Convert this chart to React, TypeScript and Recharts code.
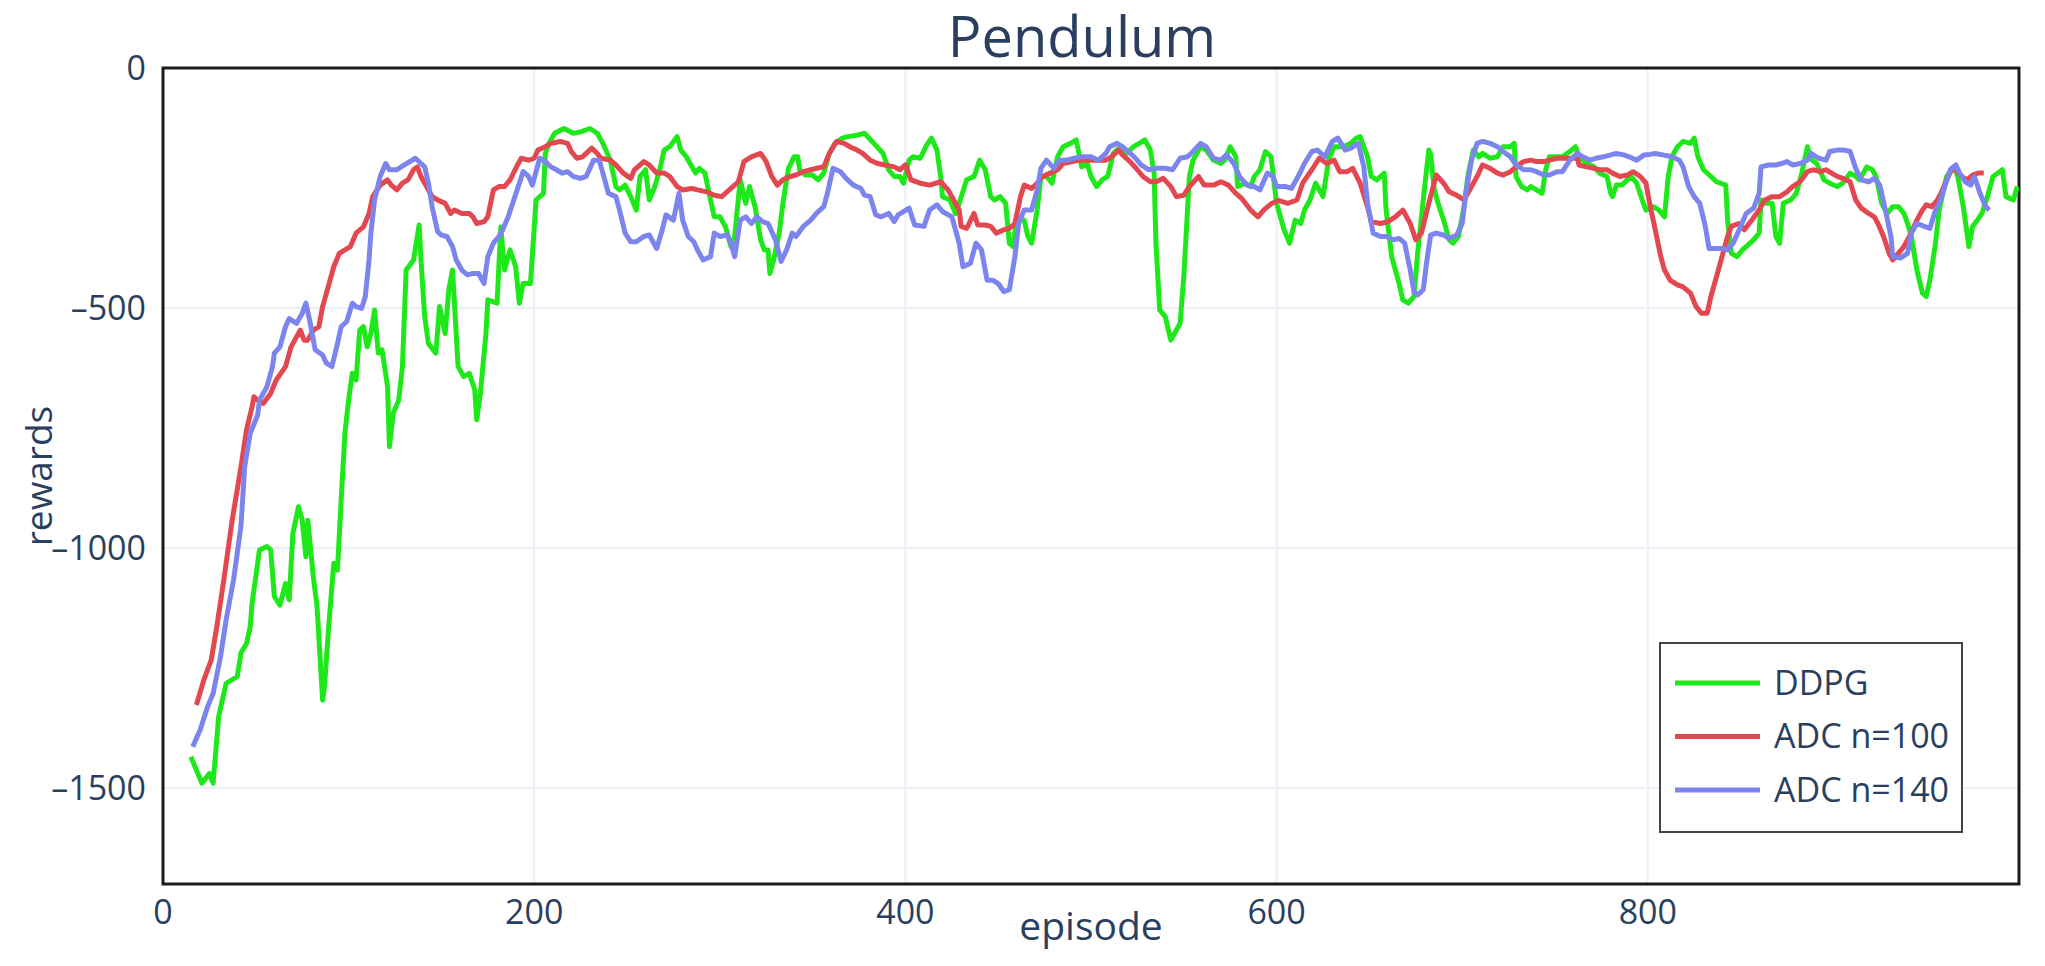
import React from "react";
import { LineChart, Line, XAxis, YAxis, CartesianGrid, Legend, ReferenceArea, Label } from "recharts";

const FONT = "'Open Sans', sans-serif";
const INK = "#2a3f5f";

const xTicks = [0, 200, 400, 600, 800];
const yTicks = [0, -500, -1000, -1500];
const seriesNames = ["DDPG", "ADC n=100", "ADC n=140"];
const seriesColors = ["#1fe81a", "#e3474f", "#7c84ee"];

// [episode, reward]
const ddpgPoints = [
  [15, -1435], [21, -1490], [25, -1470], [27, -1490], [30, -1351], [34, -1282], [40, -1268], [42, -1219],
  [45, -1199], [47, -1164], [48, -1115], [49, -1087], [52, -1004], [56, -997], [58, -1004], [60, -1101],
  [63, -1119], [66, -1074], [68, -1108], [70, -969], [73, -914], [75, -942], [77, -1018], [78, -942],
  [81, -1060], [83, -1122], [86, -1317], [87, -1289], [89, -1178], [92, -1032], [94, -1046], [96, -900],
  [98, -761], [100, -692], [102, -636], [104, -650], [106, -546], [108, -539], [110, -581], [112, -553],
  [114, -504], [116, -594], [118, -587], [121, -664], [122, -789], [124, -720], [127, -692], [129, -622],
  [131, -421], [135, -400], [138, -327], [139, -400], [141, -518], [143, -574], [147, -594], [149, -497],
  [152, -553], [154, -462], [156, -421], [159, -622], [162, -643], [165, -636], [168, -671], [169, -733],
  [171, -678], [174, -553], [175, -483], [180, -490], [182, -331], [184, -421], [187, -379], [190, -414],
  [192, -490], [194, -449], [198, -449], [201, -275], [205, -261], [206, -178], [208, -157], [211, -136],
  [216, -126], [221, -136], [225, -133], [230, -126], [234, -136], [237, -157], [241, -192], [244, -247],
  [246, -254], [249, -244], [252, -268], [255, -296], [257, -226], [260, -212], [262, -275], [265, -247],
  [268, -206], [270, -171], [273, -164], [277, -143], [279, -171], [282, -185], [284, -199], [287, -219],
  [289, -209], [292, -219], [295, -275], [297, -310], [300, -310], [303, -330], [306, -372], [308, -351],
  [311, -233], [314, -282], [316, -247], [319, -289], [322, -358], [324, -379], [326, -379], [327, -428],
  [329, -400], [332, -344], [334, -282], [337, -209], [340, -185], [342, -185], [343, -212], [346, -223],
  [350, -223], [353, -233], [356, -219], [359, -178], [362, -157], [366, -146], [369, -143], [374, -140],
  [378, -136], [383, -157], [388, -178], [391, -212], [394, -226], [397, -226], [399, -240], [402, -192],
  [404, -185], [408, -188], [411, -164], [414, -146], [417, -171], [419, -226], [420, -268], [424, -275],
  [427, -303], [429, -282], [433, -233], [437, -226], [440, -192], [443, -212], [446, -268], [448, -275],
  [451, -268], [454, -282], [456, -365], [458, -372], [460, -310], [464, -317], [466, -351], [468, -365],
  [471, -296], [473, -226], [476, -226], [479, -240], [482, -185], [485, -164], [489, -157], [492, -150],
  [495, -206], [498, -199], [500, -226], [503, -247], [506, -233], [509, -226], [512, -178], [516, -164],
  [519, -178], [523, -164], [526, -157], [529, -150], [532, -171], [534, -219], [535, -365], [537, -504],
  [540, -518], [543, -567], [545, -553], [548, -532], [550, -435], [552, -296], [553, -226], [555, -192],
  [559, -164], [562, -171], [566, -192], [570, -199], [572, -192], [575, -164], [578, -185], [579, -247],
  [583, -240], [586, -247], [588, -226], [591, -212], [594, -174], [597, -185], [600, -282], [604, -337],
  [607, -365], [610, -317], [613, -324], [615, -296], [618, -275], [621, -240], [623, -254], [625, -268],
  [628, -192], [631, -164], [636, -164], [640, -157], [643, -146], [645, -143], [649, -185], [651, -226],
  [654, -233], [658, -219], [659, -296], [662, -393], [666, -449], [668, -483], [671, -490], [674, -476],
  [676, -386], [679, -275], [682, -171], [683, -180], [685, -254], [687, -282], [690, -317], [693, -358],
  [695, -365], [698, -351], [701, -289], [703, -226], [706, -171], [709, -185], [711, -178], [715, -188],
  [719, -185], [722, -164], [726, -164], [728, -157], [729, -226], [732, -247], [735, -254], [737, -247],
  [740, -254], [743, -261], [745, -212], [747, -185], [751, -185], [754, -185], [758, -174], [761, -164],
  [763, -185], [767, -199], [771, -206], [774, -219], [778, -226], [780, -261], [781, -268], [783, -244],
  [786, -244], [789, -233], [791, -226], [794, -240], [797, -275], [799, -296], [803, -289], [806, -296],
  [809, -310], [811, -226], [813, -185], [816, -164], [819, -153], [823, -157], [825, -146], [827, -185],
  [830, -212], [834, -226], [837, -237], [842, -244], [843, -317], [845, -386], [848, -393], [851, -379],
  [853, -372], [857, -358], [860, -344], [861, -275], [864, -282], [867, -282], [869, -351], [871, -365],
  [873, -282], [877, -275], [880, -261], [883, -219], [886, -164], [888, -190], [891, -199], [895, -233],
  [898, -240], [902, -247], [905, -240], [909, -219], [912, -226], [914, -233], [918, -206], [921, -212],
  [923, -226], [926, -282], [929, -303], [932, -289], [935, -289], [938, -303], [940, -324], [942, -351],
  [945, -421], [948, -469], [950, -476], [952, -442], [955, -365], [957, -296], [961, -226], [965, -206],
  [967, -226], [970, -289], [973, -372], [975, -330], [977, -320], [980, -303], [983, -268], [986, -226],
  [991, -212], [993, -268], [997, -275], [999, -247],
];

const adc100Points = [
  [18, -1327], [22, -1275], [26, -1233], [29, -1164], [33, -1060], [37, -949], [42, -831], [45, -754],
  [48, -706], [49, -685], [51, -692], [54, -699], [58, -678], [61, -650], [66, -622], [69, -581],
  [74, -546], [76, -567], [78, -567], [81, -546], [84, -539], [86, -497], [89, -456], [92, -414],
  [95, -386], [98, -379], [101, -372], [104, -344], [108, -331], [111, -303], [113, -268], [117, -244],
  [121, -233], [123, -244], [126, -254], [129, -240], [132, -233], [135, -212], [137, -206], [139, -226],
  [142, -247], [145, -268], [148, -275], [152, -282], [155, -303], [157, -296], [161, -303], [165, -303],
  [167, -310], [169, -324], [173, -320], [175, -310], [178, -254], [181, -247], [184, -247], [187, -233],
  [191, -202], [193, -188], [197, -192], [200, -188], [202, -171], [206, -164], [209, -157], [214, -153],
  [218, -157], [220, -174], [223, -188], [226, -185], [231, -167], [234, -178], [236, -188], [241, -192],
  [244, -202], [248, -219], [252, -230], [254, -212], [259, -195], [262, -202], [266, -219], [270, -219],
  [273, -226], [277, -247], [280, -254], [285, -251], [288, -254], [293, -258], [297, -265], [301, -268],
  [306, -251], [310, -237], [313, -195], [317, -185], [322, -178], [325, -195], [328, -226], [331, -244],
  [334, -233], [338, -226], [341, -223], [345, -216], [349, -212], [352, -209], [356, -206], [359, -178],
  [363, -153], [367, -157], [370, -164], [374, -171], [377, -178], [381, -192], [385, -199], [389, -202],
  [394, -206], [397, -212], [400, -202], [403, -233], [408, -240], [413, -244], [419, -237], [423, -254],
  [426, -275], [429, -296], [430, -330], [433, -334], [437, -303], [439, -327], [443, -327], [446, -330],
  [449, -344], [453, -337], [456, -334], [459, -324], [462, -268], [464, -244], [468, -251], [471, -240],
  [474, -226], [478, -219], [482, -212], [485, -199], [490, -195], [494, -192], [499, -192], [503, -192],
  [508, -192], [511, -185], [515, -171], [517, -181], [521, -195], [525, -212], [528, -226], [532, -237],
  [535, -237], [539, -230], [543, -247], [546, -268], [550, -265], [553, -247], [558, -226], [561, -244],
  [566, -244], [570, -237], [574, -244], [578, -261], [581, -271], [586, -296], [590, -310], [593, -296],
  [597, -283], [601, -276], [606, -282], [611, -275], [614, -240], [619, -212], [623, -188], [627, -199],
  [631, -192], [634, -216], [638, -216], [641, -209], [645, -240], [649, -289], [651, -320], [656, -324],
  [660, -320], [664, -310], [668, -296], [672, -324], [675, -358], [678, -344], [682, -282], [686, -223],
  [690, -240], [693, -258], [697, -265], [701, -275], [704, -254], [708, -226], [711, -202], [715, -209],
  [719, -219], [722, -223], [726, -216], [729, -206], [733, -195], [737, -192], [740, -195], [744, -195],
  [747, -192], [751, -188], [754, -188], [758, -188], [762, -188], [763, -202], [767, -206], [771, -209],
  [774, -212], [778, -212], [781, -219], [785, -226], [789, -223], [792, -216], [796, -226], [799, -240],
  [801, -282], [804, -337], [807, -393], [809, -421], [812, -442], [816, -452], [819, -456], [823, -469],
  [826, -497], [829, -511], [832, -511], [834, -476], [837, -435], [840, -393], [843, -351], [845, -330],
  [849, -324], [852, -337], [856, -317], [860, -296], [863, -275], [867, -268], [871, -268], [875, -258],
  [878, -247], [882, -237], [886, -216], [889, -212], [893, -216], [896, -212], [899, -219], [902, -226],
  [905, -230], [909, -237], [912, -275], [915, -292], [919, -303], [922, -310], [924, -324], [927, -351],
  [930, -386], [932, -400], [935, -386], [938, -372], [941, -351], [945, -317], [948, -296], [950, -285],
  [953, -289], [956, -275], [958, -261], [961, -233], [964, -209], [966, -212], [969, -226], [972, -233],
  [975, -223], [978, -219], [981, -219],
];

const adc140Points = [
  [16, -1414], [20, -1379], [24, -1331], [27, -1303], [31, -1226], [34, -1150], [38, -1067], [42, -955],
  [44, -831], [47, -761], [51, -723], [52, -692], [56, -664], [59, -622], [60, -594], [63, -581],
  [66, -539], [68, -522], [72, -532], [75, -511], [77, -490], [79, -525], [82, -587], [86, -598],
  [88, -615], [91, -622], [94, -574], [96, -539], [99, -528], [102, -490], [104, -497], [107, -501],
  [109, -476], [111, -400], [112, -344], [114, -275], [117, -226], [120, -199], [122, -212], [126, -212],
  [130, -202], [133, -195], [136, -188], [139, -199], [141, -206], [143, -240], [145, -289], [148, -341],
  [150, -348], [153, -351], [156, -372], [158, -400], [161, -421], [164, -431], [167, -428], [170, -428],
  [173, -449], [175, -393], [178, -365], [181, -351], [183, -337], [186, -310], [189, -275], [192, -240],
  [194, -216], [197, -226], [199, -244], [201, -216], [203, -188], [206, -195], [209, -206], [212, -212],
  [215, -219], [218, -216], [221, -226], [225, -230], [228, -226], [232, -192], [235, -192], [237, -219],
  [240, -261], [244, -268], [246, -296], [249, -344], [252, -362], [255, -362], [259, -351], [262, -348],
  [266, -376], [269, -337], [271, -306], [275, -317], [278, -261], [280, -317], [283, -351], [286, -362],
  [288, -379], [291, -400], [295, -393], [297, -344], [300, -351], [304, -348], [306, -365], [308, -393],
  [311, -317], [314, -310], [317, -324], [320, -310], [323, -320], [326, -324], [330, -358], [333, -403],
  [336, -379], [339, -344], [341, -351], [345, -330], [349, -317], [352, -303], [356, -289], [358, -261],
  [361, -209], [365, -216], [368, -230], [372, -244], [376, -251], [378, -265], [381, -268], [384, -306],
  [387, -310], [391, -303], [394, -320], [396, -306], [399, -299], [402, -292], [405, -327], [410, -330],
  [413, -296], [417, -285], [420, -299], [425, -310], [429, -365], [431, -414], [435, -407], [438, -365],
  [441, -379], [444, -442], [447, -442], [450, -449], [453, -466], [456, -462], [459, -393], [461, -324],
  [464, -296], [468, -296], [471, -254], [473, -209], [476, -192], [480, -209], [483, -192], [487, -192],
  [491, -188], [495, -185], [500, -185], [504, -192], [508, -178], [510, -164], [514, -157], [517, -164],
  [520, -174], [524, -188], [527, -202], [531, -212], [535, -209], [540, -209], [544, -212], [548, -188],
  [552, -185], [555, -174], [559, -157], [562, -164], [566, -188], [570, -192], [573, -181], [577, -199],
  [580, -226], [584, -244], [588, -247], [591, -254], [595, -219], [598, -226], [600, -247], [605, -247],
  [608, -251], [612, -223], [615, -199], [619, -174], [622, -171], [626, -185], [630, -153], [633, -146],
  [637, -171], [640, -167], [644, -157], [647, -206], [649, -282], [652, -344], [656, -351], [659, -351],
  [663, -358], [666, -355], [669, -365], [672, -421], [674, -466], [676, -473], [679, -462], [681, -400],
  [683, -348], [686, -344], [690, -348], [693, -355], [697, -348], [700, -324], [702, -261], [705, -192],
  [708, -157], [711, -153], [715, -157], [719, -164], [722, -174], [726, -185], [729, -202], [733, -212],
  [737, -212], [740, -216], [744, -223], [747, -223], [751, -216], [754, -216], [758, -192], [762, -178],
  [765, -185], [769, -192], [772, -188], [776, -185], [780, -181], [783, -178], [787, -181], [790, -185],
  [794, -192], [798, -181], [801, -180], [804, -178], [808, -181], [813, -185], [817, -192], [819, -206],
  [822, -247], [825, -268], [828, -282], [831, -330], [833, -376], [836, -376], [840, -376], [843, -379],
  [846, -365], [850, -330], [853, -303], [857, -292], [860, -261], [861, -206], [865, -202], [869, -202],
  [872, -199], [875, -195], [878, -202], [882, -199], [886, -192], [888, -178], [892, -188], [896, -192],
  [898, -174], [902, -171], [906, -171], [909, -174], [912, -209], [915, -233], [919, -237], [922, -230],
  [925, -244], [928, -296], [931, -351], [932, -393], [936, -396], [940, -386], [942, -344], [945, -324],
  [949, -330], [952, -334], [955, -296], [957, -282], [960, -247], [963, -212], [966, -202], [968, -219],
  [971, -237], [974, -244], [976, -226], [979, -261], [982, -289], [984, -296],
];

const toRows = (pts: number[][]) => pts.map(([episode, reward]) => ({ episode, reward }));
const seriesData = [toRows(ddpgPoints), toRows(adc100Points), toRows(adc140Points)];

// plotly-style minus; Open Sans has no U+2212, the en dash is the closest match
const fmt = (v: number) => String(v).replace("-", "\u2013");

function LegendBox({ payload }: any) {
  const items = [...(payload || [])].sort(
    (a: any, b: any) => seriesNames.indexOf(a.value) - seriesNames.indexOf(b.value)
  );
  return (
    <svg width={304} height={191} style={{ display: "block" }}>
      <rect x={1} y={1} width={302} height={189} fill="#fff" stroke="#444" strokeWidth={2} />
      {items.map((p: any, i: number) => {
        const cy = 41 + i * 53.5;
        return (
          <g key={p.value}>
            <line x1={16} x2={101} y1={cy} y2={cy} stroke={p.color} strokeWidth={5} />
            <text x={115} y={cy} dy="0.35em" fontSize={34} fill={INK} fontFamily={FONT}>
              {p.value}
            </text>
          </g>
        );
      })}
    </svg>
  );
}

function YTitle({ viewBox }: any) {
  const cx = 39;
  const cy = viewBox.y + viewBox.height / 2;
  return (
    <text x={cx} y={cy} dy="0.35em" transform={`rotate(-90 ${cx} ${cy})`} textAnchor="middle"
      fontSize={37} fill={INK} fontFamily={FONT}>
      rewards
    </text>
  );
}

export default function App() {
  return (
    <div style={{ position: "relative", width: 2045, height: 966, background: "#fff" }}>
      <style>{"body{margin:0}"}</style>
      <div style={{ position: "absolute", top: 2, left: 0, width: 2164, textAlign: "center",
        fontFamily: FONT, fontSize: 56, color: INK, lineHeight: "66px" }}>
        Pendulum
      </div>
      <LineChart width={2045} height={966} data={seriesData[0]}
        margin={{ top: 68, right: 26, left: 0, bottom: 0 }}>
        <CartesianGrid stroke="#ebf0f8" strokeWidth={2} />
        <XAxis dataKey="episode" type="number" domain={[0, 1000]} ticks={xTicks} allowDataOverflow
          height={82} tickLine={false} axisLine={false} tickSize={0} tickMargin={16}
          tick={{ fontSize: 34, fill: INK, fontFamily: FONT }}>
          <Label value="episode" position="insideBottom" offset={26} fontSize={39} fill={INK} fontFamily={FONT} />
        </XAxis>
        <YAxis type="number" domain={[-1700, 0]} ticks={yTicks} allowDataOverflow width={163}
          tickLine={false} axisLine={false} tickSize={0} tickMargin={17} tickFormatter={fmt}
          tick={{ fontSize: 34, fill: INK, fontFamily: FONT }}
          label={<YTitle />} />
        {seriesNames.map((name, i) => (
          <Line key={name} data={seriesData[i]} dataKey="reward" name={name} type="linear"
            stroke={seriesColors[i]} strokeWidth={5} strokeLinejoin="round" dot={false}
            activeDot={false} isAnimationActive={false} />
        ))}
        <ReferenceArea x1={0} x2={1000} y1={-1700} y2={0} fill="none" stroke="#1c1c1c"
          strokeWidth={3} ifOverflow="visible" />
        <Legend layout="vertical" align="center" verticalAlign="middle" content={<LegendBox />}
          wrapperStyle={{ left: 1659, top: 642, width: 304, height: 191 }} />
      </LineChart>
    </div>
  );
}
